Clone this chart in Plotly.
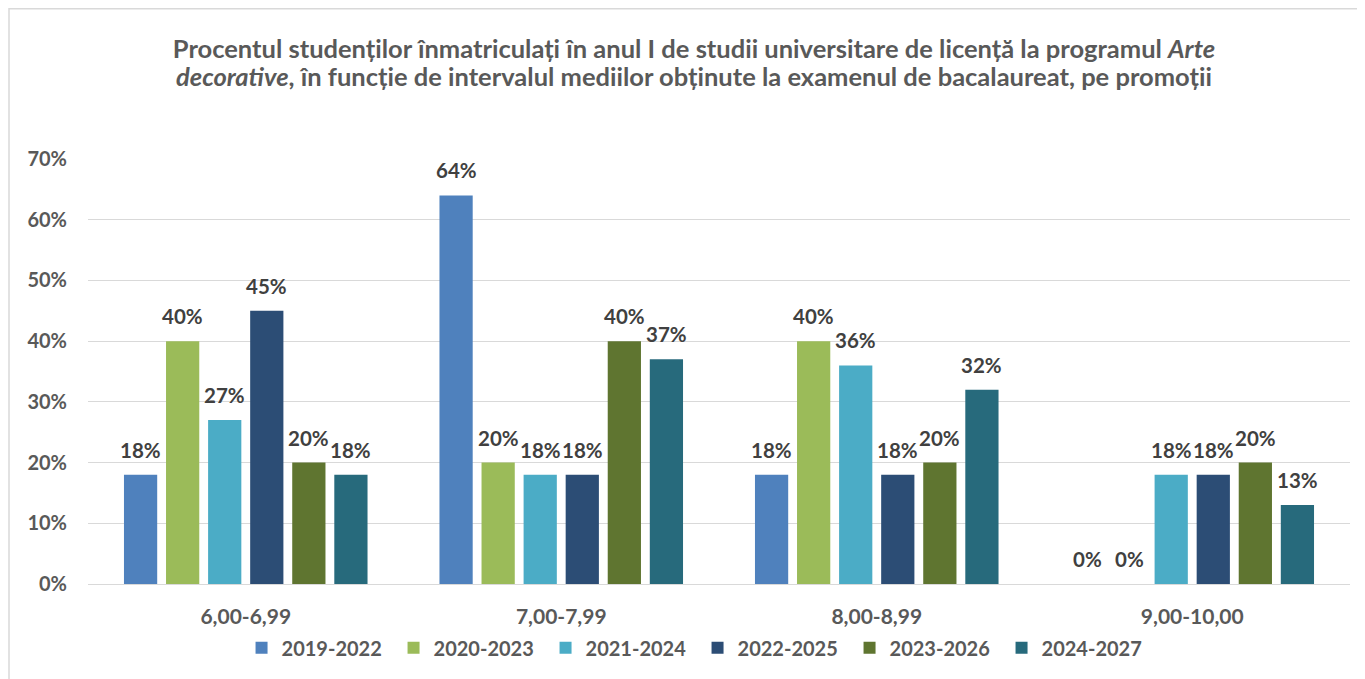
import plotly.graph_objects as go

categories = ["6,00-6,99", "7,00-7,99", "8,00-8,99", "9,00-10,00"]
series_names = ["2019-2022", "2020-2023", "2021-2024", "2022-2025", "2023-2026", "2024-2027"]
v_2019_2022 = [0.18, 0.64, 0.18, 0.00]
v_2020_2023 = [0.40, 0.20, 0.40, 0.00]
v_2021_2024 = [0.27, 0.18, 0.36, 0.18]
v_2022_2025 = [0.45, 0.18, 0.18, 0.18]
v_2023_2026 = [0.20, 0.40, 0.20, 0.20]
v_2024_2027 = [0.18, 0.37, 0.32, 0.13]
series_values = [v_2019_2022, v_2020_2023, v_2021_2024, v_2022_2025, v_2023_2026, v_2024_2027]
colors = ["#4F81BD", "#9BBB59", "#4BACC6", "#2C4D75", "#5F7530", "#276A7C"]
title_line1 = "Procentul studenților înmatriculați în anul I de studii universitare de licență la programul <i>Arte</i>"
title_line2 = "<i>decorative</i>, în funcție de intervalul mediilor obținute la examenul de bacalaureat, pe promoții"

FONT = "Lato"
TITLE_FONT = dict(family=FONT, size=25.5, color="#595959", weight="bold")
fig = go.Figure()
for name, vals, col in zip(series_names, series_values, colors):
    fig.add_trace(go.Bar(name=name, x=categories, y=vals, marker_color=col,
                         marker_line_width=0))

annotations = []
slot = 42
for i, vals in enumerate(series_values):
    for c, v in zip(categories, vals):
        annotations.append(dict(x=c, y=v, xref="x", yref="y", text=f"{round(v*100)}%",
                                showarrow=False, xshift=(i - 2.5) * slot, yshift=25,
                                font=dict(family=FONT, size=20.5, color="#404040", weight="bold")))
annotations.append(dict(text=title_line2, xref="paper", yref="paper", x=0.4802, y=1.1944,
                        xanchor="center", yanchor="middle", showarrow=False, font=TITLE_FONT))

fig.update_layout(
    width=1357, height=671,
    margin=dict(l=80, r=15, t=151, b=93),
    paper_bgcolor="white", plot_bgcolor="white",
    barmode="group", bargap=0.2, bargroupgap=0.21,
    title=dict(text=title_line1,
               x=0.5055, xanchor="center", y=0.9389, yanchor="middle", yref="container",
               font=TITLE_FONT),
    xaxis=dict(tickfont=dict(family=FONT, size=21, color="#595959", weight="bold"),
               showgrid=False, ticks="", showline=False, ticklabelstandoff=18),
    yaxis=dict(range=[0, 0.7], dtick=0.1, tickformat=".0%",
               tickfont=dict(family=FONT, size=20, color="#595959", weight="bold"),
               gridcolor="#D9D9D9", gridwidth=1, zeroline=True, zerolinecolor="#D9D9D9",
               zerolinewidth=1, ticklabelstandoff=20),
    legend=dict(orientation="h", x=0.483, xanchor="center", y=-0.15, yanchor="middle",
                font=dict(family=FONT, size=20, color="#595959", weight="bold"),
                itemwidth=30, entrywidth=107, traceorder="normal"),
    annotations=annotations,
    shapes=[dict(type="rect", xref="paper", yref="paper",
                 x0=(9 - 88) / 1262, x1=1.2, y0=-0.5, y1=(586 - 8) / 427,
                 line=dict(color="#D9D9D9", width=1.5), fillcolor="rgba(0,0,0,0)", layer="below")],
    showlegend=True,
)
fig.write_html("out.html")
